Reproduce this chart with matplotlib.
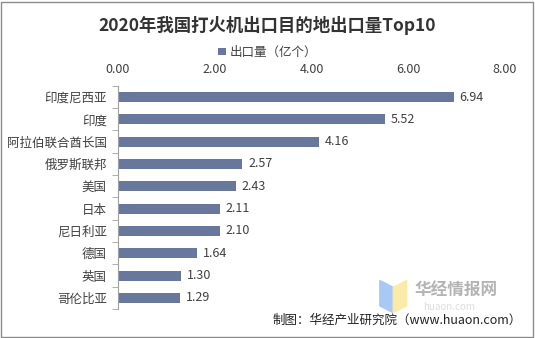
import matplotlib.pyplot as plt
from matplotlib.patches import Rectangle, Polygon

plt.rcParams['font.family'] = ['Noto Sans CJK SC', 'DejaVu Sans']

countries = ["印度尼西亚", "印度", "阿拉伯联合酋长国", "俄罗斯联邦", "美国",
             "日本", "尼日利亚", "德国", "英国", "哥伦比亚"]
exports = [6.94, 5.52, 4.16, 2.57, 2.43, 2.11, 2.10, 1.64, 1.30, 1.29]
xticks = [0, 2, 4, 6, 8]

bar_color = "#68779c"
text_color = "#404040"

fig = plt.figure(figsize=(5.35, 3.38), dpi=100)
ax = fig.add_axes([0.2206, 0.0858, 0.7234, 0.6602])

pos = list(range(len(countries)))
ax.barh(pos, exports, height=0.45, color=bar_color, label="出口量（亿个）")
ax.set_ylim(len(countries) - 0.5, -0.5)
ax.set_xlim(0, 8)

for p, v in zip(pos, exports):
    ax.text(v + 0.12, p, f"{v:.2f}", va="center", ha="left", fontsize=9, color=text_color)

ax.xaxis.tick_top()
ax.set_xticks(xticks)
ax.set_xticklabels([f"{t:.2f}" for t in xticks], fontsize=9, color=text_color)
ax.tick_params(axis="x", length=0, pad=7)

ax.set_yticks(pos)
ax.set_yticklabels(countries, fontsize=9, color=text_color)
ax.set_yticks([p - 0.5 for p in pos] + [len(pos) - 0.5], minor=True)
ax.tick_params(axis="y", which="major", length=0, pad=8)
ax.tick_params(axis="y", which="minor", length=4, color="#a0a0a0")

for s in ["top", "right", "bottom"]:
    ax.spines[s].set_visible(False)
ax.spines["left"].set_color("#a0a0a0")

fig.text(0.5, 0.925, "2020年我国打火机出口目的地出口量Top10", ha="center", va="center",
         fontsize=12.5, fontweight="bold", color="#333333")
fig.legend(loc="center", bbox_to_anchor=(0.5, 0.845), frameon=False, fontsize=9,
           handlelength=0.6, handleheight=0.6, handletextpad=0.3, labelcolor=text_color)

# watermark
fig.patches.append(Polygon([[0.71, 0.17], [0.735, 0.15], [0.735, 0.075], [0.71, 0.095]],
                           closed=True, transform=fig.transFigure, color="#a8c8f5", zorder=5))
fig.patches.append(Polygon([[0.735, 0.15], [0.76, 0.17], [0.76, 0.095], [0.735, 0.075]],
                           closed=True, transform=fig.transFigure, color="#fbeaa8", zorder=5))
fig.text(0.775, 0.14, "华经情报网", fontsize=12, fontweight="bold", color="#b4b4b4", va="center")
fig.text(0.79, 0.092, "huaon.com", fontsize=7, color="#dddddd", va="center")

fig.text(0.975, 0.052, "制图：华经产业研究院（www.huaon.com）", ha="right", va="center",
         fontsize=9, color="#222222", zorder=6)

fig.patches.append(Rectangle((0.002, 0.003), 0.994, 0.992, transform=fig.transFigure,
                             fill=False, edgecolor="#8c8c8c", linewidth=1))

fig.savefig("out.png", dpi=100)
